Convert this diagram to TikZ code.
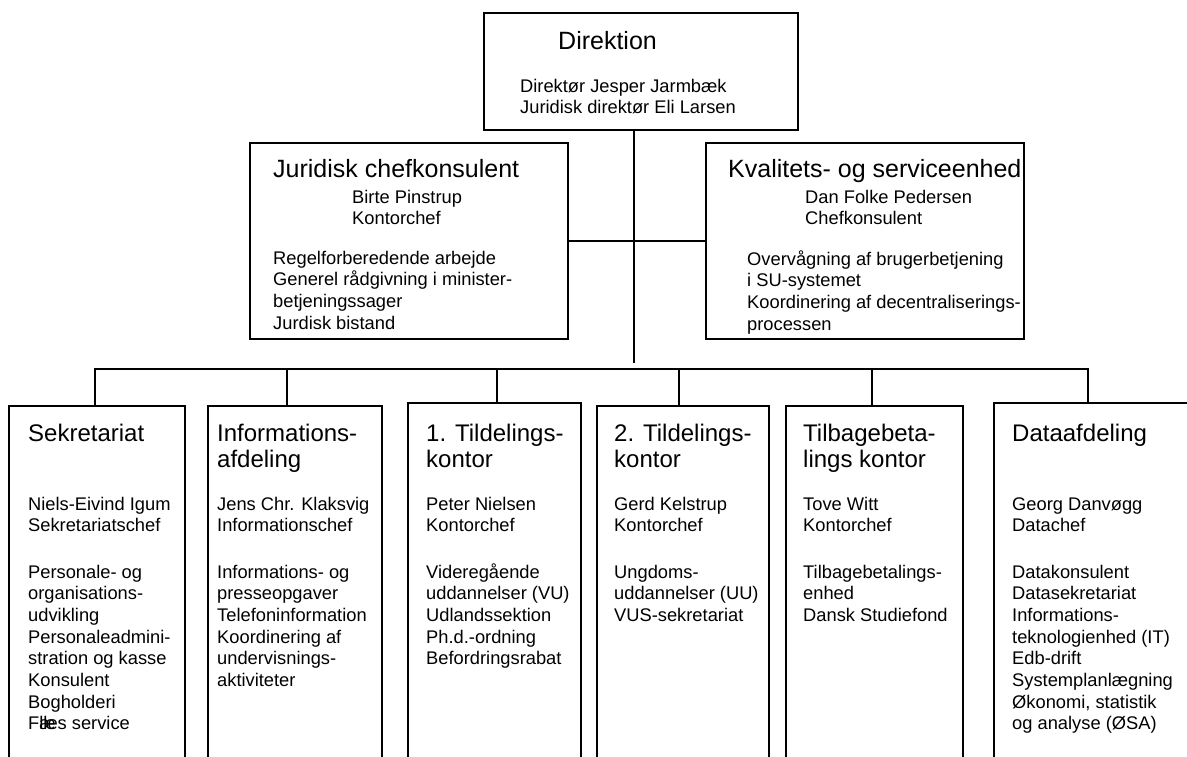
\documentclass[tikz,border=0pt]{standalone}
\usepackage{fontspec}
\setmainfont{Liberation Sans}
\newcommand{\headfont}{\fontsize{24}{26.7}\selectfont}
\newcommand{\topfont}{\fontsize{25}{28}\selectfont}
\newcommand{\bodyfont}{\fontsize{18.3}{21.7}\selectfont}
\newcommand{\unitlines}[1]{\begin{tabular}[t]{@{}l@{}}#1\end{tabular}}
\tikzset{
    unitbox/.style = {rectangle, line width=2pt, draw=black, anchor=north west, inner sep=0pt, outer sep=0pt},
    tophead/.style = {anchor=base west, inner sep=0pt, font=\topfont},
    unithead/.style = {anchor=base west, inner sep=0pt, font=\headfont},
    unittext/.style = {anchor=base west, inner sep=0pt, font=\bodyfont},
    link/.style = {line width=2pt, draw=black, line cap=rect}
}
\begin{document}
\begin{tikzpicture}[x=1pt, y=-1pt]
\useasboundingbox (0, 0) rectangle (1187, 756);
\clip (0, 0) rectangle (1187, 756);
%
\node[unitbox, minimum width=314pt, minimum height=117pt] at (484, 13) (dir) {};
\node[tophead] at (558, 49) (dir-t) {Direktion};
\node[unittext] at (520, 92) (dir-p) {\unitlines{Direktør Jesper Jarmbæk\\Juridisk direktør Eli Larsen}};
%
\node[unitbox, minimum width=318pt, minimum height=196pt] at (250, 143) (jur) {};
\node[tophead] at (273, 177) (jur-t) {Juridisk chefkonsulent};
\node[unittext] at (352, 203) (jur-p) {\unitlines{Birte Pinstrup\\Kontorchef}};
\node[unittext] at (273, 264) (jur-d) {\unitlines{Regelforberedende arbejde\\Generel rådgivning i minister-\\betjeningssager\\Jurdisk bistand}};
%
\node[unitbox, minimum width=318pt, minimum height=196pt] at (706, 143) (kval) {};
\node[tophead] at (728, 177) (kval-t) {Kvalitets- og serviceenhed};
\node[unittext] at (805, 203) (kval-p) {\unitlines{Dan Folke Pedersen\\Chefkonsulent}};
\node[unittext] at (747, 265) (kval-d) {\unitlines{Overvågning af brugerbetjening\\i SU-systemet\\Koordinering af decentraliserings-\\processen}};
%
\node[unitbox, minimum width=176pt, minimum height=400pt] at (9, 406) (sek) {};
\node[unithead] at (28, 441) (sek-t) {Sekretariat};
\node[unittext] at (28, 510) (sek-p) {\unitlines{Niels-Eivind Igum\\Sekretariatschef}};
\node[unittext] at (28, 578) (sek-d) {\unitlines{Personale- og\\organisations-\\udvikling\\Personaleadmini-\\stration og kasse\\Konsulent\\Bogholderi\\F\rlap{æ}lles service}};
%
\node[unitbox, minimum width=174pt, minimum height=400pt] at (208, 406) (inf) {};
\node[unithead] at (217, 441) (inf-t) {\unitlines{Informations-\\afdeling}};
\node[unittext] at (217, 510) (inf-p) {\unitlines{Jens Chr. Klaksvig\\Informationschef}};
\node[unittext] at (217, 578) (inf-d) {\unitlines{Informations- og\\presseopgaver\\Telefoninformation\\Koordinering af\\undervisnings-\\aktiviteter}};
%
\node[unitbox, minimum width=173pt, minimum height=400pt] at (408, 403) (tila) {};
\node[unithead] at (426, 441) (tila-t) {\unitlines{1. Tildelings-\\kontor}};
\node[unittext] at (426, 510) (tila-p) {\unitlines{Peter Nielsen\\Kontorchef}};
\node[unittext] at (426, 578) (tila-d) {\unitlines{Videregående\\uddannelser (VU)\\Udlandssektion\\Ph.d.-ordning\\Befordringsrabat}};
%
\node[unitbox, minimum width=172pt, minimum height=400pt] at (597, 406) (tilb) {};
\node[unithead] at (614, 441) (tilb-t) {\unitlines{2. Tildelings-\\kontor}};
\node[unittext] at (614, 510) (tilb-p) {\unitlines{Gerd Kelstrup\\Kontorchef}};
\node[unittext] at (614, 578) (tilb-d) {\unitlines{Ungdoms-\\uddannelser (UU)\\VUS-sekretariat}};
%
\node[unitbox, minimum width=177pt, minimum height=400pt] at (786, 406) (tbet) {};
\node[unithead] at (803, 441) (tbet-t) {\unitlines{Tilbagebeta-\\lings kontor}};
\node[unittext] at (803, 510) (tbet-p) {\unitlines{Tove Witt\\Kontorchef}};
\node[unittext] at (803, 578) (tbet-d) {\unitlines{Tilbagebetalings-\\enhed\\Dansk Studiefond}};
%
\node[unitbox, minimum width=206pt, minimum height=400pt] at (994, 403) (data) {};
\node[unithead] at (1012, 441) (data-t) {Dataafdeling};
\node[unittext] at (1012, 510) (data-p) {\unitlines{Georg Danvøgg\\Datachef}};
\node[unittext] at (1012, 578) (data-d) {\unitlines{Datakonsulent\\Datasekretariat\\Informations-\\teknologienhed (IT)\\Edb-drift\\Systemplanlægning\\Økonomi, statistik\\og analyse (ØSA)}};
%
\coordinate (stem) at (634, 362);
\draw[link] (stem |- dir.south) -- (stem);
\draw[link] (jur.east) -- (kval.west);
%
\coordinate (j-sek) at (95, 369);
\coordinate (j-inf) at (287, 369);
\coordinate (j-tila) at (497, 369);
\coordinate (j-tilb) at (679, 369);
\coordinate (j-tbet) at (872, 369);
\coordinate (j-data) at (1088, 369);
\draw[link] (j-sek) -- (j-data);
\draw[link] (j-sek) -- (j-sek |- sek.north);
\draw[link] (j-inf) -- (j-inf |- inf.north);
\draw[link] (j-tila) -- (j-tila |- tila.north);
\draw[link] (j-tilb) -- (j-tilb |- tilb.north);
\draw[link] (j-tbet) -- (j-tbet |- tbet.north);
\draw[link] (j-data) -- (j-data |- data.north);

\end{tikzpicture}
\end{document}
